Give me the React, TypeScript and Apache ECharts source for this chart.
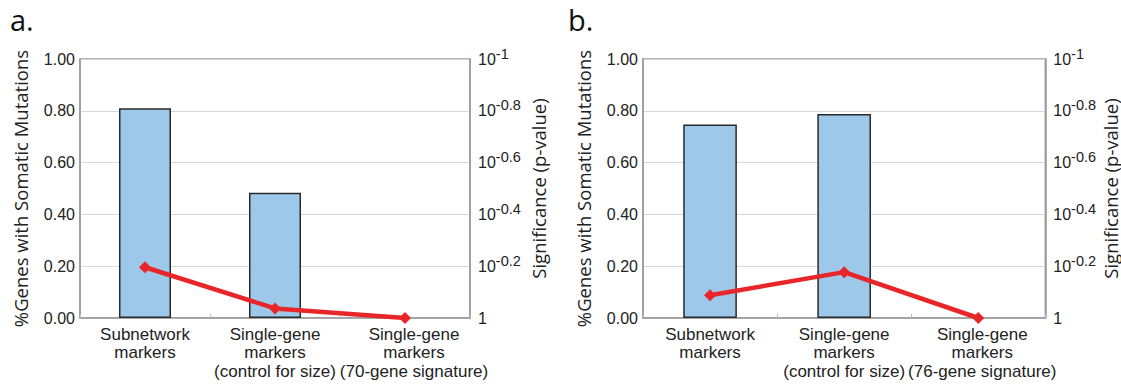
import React, { useEffect, useRef } from "react";
import * as echarts from "echarts";

const categoriesA = ["Subnetwork\nmarkers", "Single-gene\nmarkers\n(control for size)", "Single-gene\nmarkers\n(70-gene signature)"];
const categoriesB = ["Subnetwork\nmarkers", "Single-gene\nmarkers\n(control for size)", "Single-gene\nmarkers\n(76-gene signature)"];
const mutationFracA = [0.81, 0.484, null];
const negLogPA = [0.196, 0.037, 0];
const mutationFracB = [0.747, 0.788, null];
const negLogPB = [0.088, 0.177, 0];
const leftTicks = [0, 0.2, 0.4, 0.6, 0.8, 1.0];
const rightTickExps = ["", "-0.2", "-0.4", "-0.6", "-0.8", "-1"];

const tickFont = "Liberation Sans";
const nameFont = "Open Sans";

export default function App() {
  const ref = useRef<HTMLDivElement>(null);
  useEffect(() => {
    if (!ref.current) return;
    const chart = echarts.init(ref.current, null, { renderer: "svg" });
    const grids = [
      { left: 80, right: 1121 - 470, top: 59, bottom: 386 - 318 },
      { left: 643, right: 1121 - 1046, top: 59, bottom: 386 - 318 },
    ];
    const lastShift = [18, 8];
    const xAxis = [categoriesA, categoriesB].map((cats, i) => ({
      type: "category",
      gridIndex: i,
      data: cats.map((c, j) =>
        j === cats.length - 1 ? { value: c, textStyle: { padding: [0, 0, 0, lastShift[i]] } } : c
      ),
      axisLine: { show: true, lineStyle: { color: "#9a9a9a", width: 1.5 } },
      axisTick: { show: true, inside: true, length: 4, lineStyle: { color: "#bbb" } },
      axisLabel: {
        color: "#222",
        fontFamily: tickFont,
        fontSize: 17,
        lineHeight: 18.5,
        margin: 7,
        interval: 0,
      },
    }));
    const yAxis: any[] = [];
    [0, 1].forEach((i) => {
      yAxis.push({
        type: "value",
        gridIndex: i,
        min: 0,
        max: 1,
        interval: 0.2,
        name: "%Genes with Somatic Mutations",
        nameLocation: "middle",
        nameGap: 50,
        nameTextStyle: { fontFamily: nameFont, fontSize: 18.5, color: "#222" },
        axisLine: { show: true, lineStyle: { color: "#9a9a9a", width: 1.5 } },
        axisTick: { show: false },
        splitLine: { show: true, lineStyle: { color: "#d6d6d6", width: 1 } },
        axisLabel: {
          color: "#222",
          fontFamily: tickFont,
          fontSize: 16,
          margin: 5,
          formatter: (v: number) => v.toFixed(2),
        },
      });
      yAxis.push({
        type: "value",
        gridIndex: i,
        position: "right",
        min: 0,
        max: 1,
        interval: 0.2,
        name: "Significance (p-value)",
        nameLocation: "middle",
        nameGap: i === 0 ? 58 : 47,
        nameRotate: 90,
        nameTextStyle: { fontFamily: nameFont, fontSize: 18.5, lineHeight: 20, color: "#222" },
        axisLine: { show: true, lineStyle: { color: "#9a9a9a", width: 1.5 } },
        axisTick: { show: false },
        splitLine: { show: false },
        axisLabel: {
          color: "#222",
          fontFamily: tickFont,
          fontSize: 16,
          margin: 8,
          formatter: (v: number) => {
            const idx = leftTicks.findIndex((t) => Math.abs(t - v) < 1e-6);
            const e = idx >= 0 ? rightTickExps[idx] : "";
            return e === "" ? "1" : `{b|10}{s|${e}}`;
          },
          rich: {
            b: { fontFamily: tickFont, fontSize: 16, color: "#222" },
            s: { fontFamily: tickFont, fontSize: 14.5, color: "#222", padding: [0, 0, 11, 0] },
          },
        },
      });
    });
    const barStyle = { color: "#9dc8ea", borderColor: "#2a2a2a", borderWidth: 1.5 };
    const lineStyle = { color: "#e8262a", width: 4.5 };
    const option: any = {
      animation: false,
      grid: grids.map((g) => ({ ...g, show: true, borderColor: "#9a9a9a", borderWidth: 1.5, backgroundColor: "#fff" })),
      xAxis,
      yAxis,
      graphic: [
        { type: "text", left: 10, top: 5, style: { text: "a.", fontFamily: nameFont, fontSize: 29, fill: "#111" } },
        { type: "text", left: 568, top: 5, style: { text: "b.", fontFamily: nameFont, fontSize: 29, fill: "#111" } },
      ],
      series: [
        { type: "bar", xAxisIndex: 0, yAxisIndex: 0, data: mutationFracA, barWidth: "40%", itemStyle: barStyle },
        {
          type: "line", xAxisIndex: 0, yAxisIndex: 1, data: negLogPA, symbol: "diamond", symbolSize: 12,
          lineStyle, itemStyle: { color: "#e8262a" },
        },
        { type: "bar", xAxisIndex: 1, yAxisIndex: 2, data: mutationFracB, barWidth: "40%", itemStyle: barStyle },
        {
          type: "line", xAxisIndex: 1, yAxisIndex: 3, data: negLogPB, symbol: "diamond", symbolSize: 12,
          lineStyle, itemStyle: { color: "#e8262a" },
        },
      ],
    };
    chart.setOption(option);
    return () => chart.dispose();
  }, []);
  return (
    <div
      ref={ref}
      style={{ position: "fixed", left: 0, top: 0, width: 1121, height: 386, background: "#fff" }}
    />
  );
}
